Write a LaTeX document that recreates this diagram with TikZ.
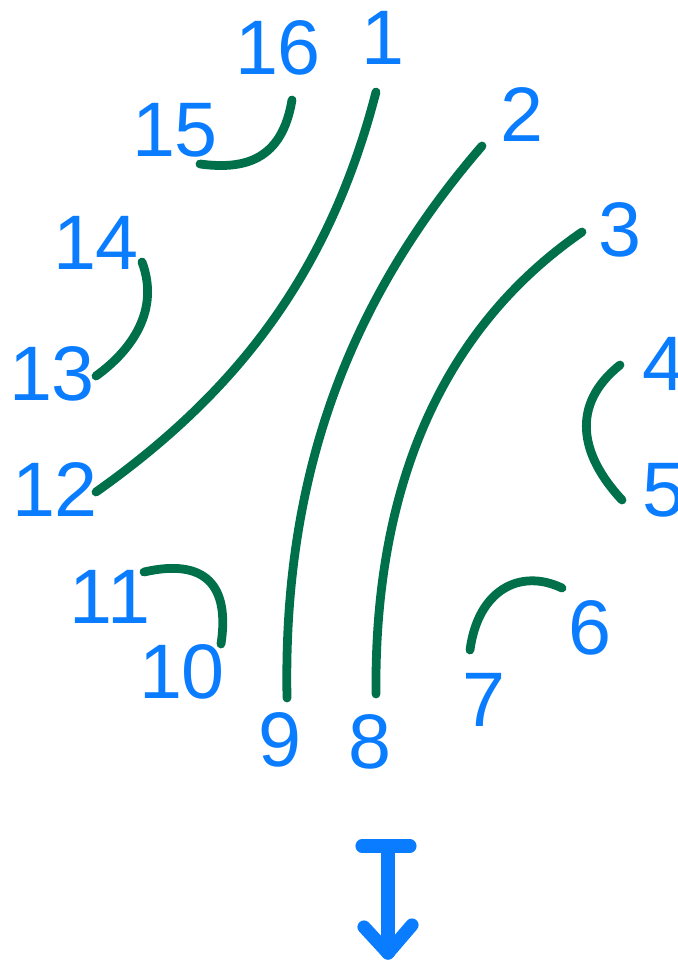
\documentclass[tikz,border=0pt]{standalone}
\usepackage{fontspec}
\setmainfont{Liberation Sans}
\usepackage{xcolor}
\usepackage{tikz}
\usetikzlibrary{
  arrows.meta,
  positioning,
  calc,
}
\definecolor{numblue}{HTML}{0A7CFF}
\definecolor{stripgreen}{HTML}{00704A}

\begin{document}
\begin{tikzpicture}[
    x=0.02cm, y=-0.02cm,
    num/.style={text=numblue, inner sep=0pt,
                font=\fontsize{44}{44}\selectfont},
    strand/.style={draw=stripgreen, line width=5pt, line cap=round},
    pointer/.style={draw=numblue, line width=7.5pt, line cap=round,
                    line join=round},
  ]
  \useasboundingbox (0,0) rectangle (677,964);
  \clip (0,0) rectangle (677,964);

  % labels round the circle
  \node[num] (n1)  at (383,38)  {1};
  \node[num] (n2)  at (522,115) {2};
  \node[num] (n3)  at (620,230) {3};
  \node[num] (n4)  at (664,364) {4};
  \node[num] (n5)  at (664,490) {5};
  \node[num] (n6)  at (590,628) {6};
  \node[num] (n7)  at (484,700) {7};
  \node[num] (n8)  at (370,742) {8};
  \node[num] (n9)  at (280,740) {9};
  \node[num] (n10) at (182,672) {10};
  \node[num] (n11) at (110,597) {11};
  \node[num] (n12) at (55,490)  {12};
  \node[num] (n13) at (52,374)  {13};
  \node[num] (n14) at (96,243)  {14};
  \node[num] (n15) at (175,130) {15};
  \node[num] (n16) at (278,48)  {16};

  % strand ends
  \coordinate (a1)  at (376,92);
  \coordinate (a12) at (96,492);
  \coordinate (a2)  at (482,146);
  \coordinate (a9)  at (287,698);
  \coordinate (a3)  at (582,232);
  \coordinate (a8)  at (376,694);
  \coordinate (a16) at (292,100);
  \coordinate (a15) at (200,164);
  \coordinate (a14) at (142,262);
  \coordinate (a13) at (96,376);
  \coordinate (a4)  at (620,365);
  \coordinate (a5)  at (622,500);
  \coordinate (a11) at (144,572);
  \coordinate (a10) at (221,644);
  \coordinate (a6)  at (562,588);
  \coordinate (a7)  at (470,650);

  \draw[strand] (a1) .. controls (330,270) and (240,390) .. (a12);
  \draw[strand] (a2) .. controls (340,310) and (283,490) .. (a9);
  \draw[strand] (a3) .. controls (440,330) and (374,490) .. (a8);
  \draw[strand] (a16) .. controls (282,160) and (245,170) .. (a15);
  \draw[strand] (a14) .. controls (160,310) and (132,350) .. (a13);
  \draw[strand] (a4) .. controls (570,405) and (580,455) .. (a5);
  \draw[strand] (a11) .. controls (205,558) and (230,585) .. (a10);
  \draw[strand] (a6) .. controls (520,568) and (478,590) .. (a7);

  % arrow at the bottom
  \coordinate (bar1) at (362,846);
  \coordinate (bar2) at (410,846);
  \coordinate (top)  at (388,846);
  \coordinate (tip)  at (388,953);
  \draw[pointer] (bar1) -- (bar2);
  \draw[pointer] (top) -- (tip);
  \draw[pointer] ($(tip)+(-24,-26)$) -- (tip) -- ($(tip)+(24,-28)$);
\end{tikzpicture}
\end{document}
